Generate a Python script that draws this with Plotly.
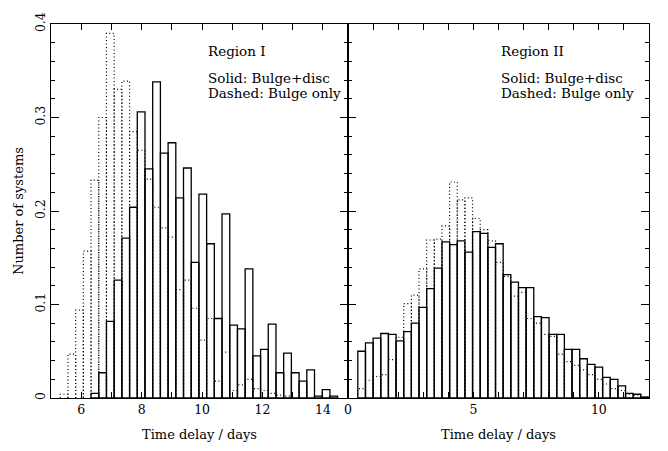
import plotly.graph_objects as go

# ---------------- Region I (left panel) ----------------
R1_BIN = 0.255
r1_centers = [6.453, 6.708, 6.963, 7.218, 7.473, 7.728, 7.983, 8.238, 8.493, 8.748,
              9.003, 9.258, 9.513, 9.768, 10.023, 10.278, 10.533, 10.788, 11.043, 11.298,
              11.553, 11.808, 12.063, 12.318, 12.573, 12.828, 13.083, 13.338, 13.593, 13.848,
              14.103, 14.358]
r1_solid = [0.005, 0.027, 0.082, 0.126, 0.171, 0.204, 0.306, 0.245, 0.338, 0.262,
            0.273, 0.214, 0.246, 0.145, 0.218, 0.165, 0.085, 0.197, 0.078, 0.074,
            0.138, 0.045, 0.052, 0.079, 0.027, 0.048, 0.027, 0.018, 0.030, 0.002,
            0.009, 0.002]
r1_dash_centers = [5.433, 5.688, 5.943, 6.198, 6.453, 6.708, 6.963, 7.218, 7.473, 7.728,
                   7.983, 8.238, 8.493, 8.748, 9.003, 9.258, 9.513, 9.768, 10.023, 10.278,
                   10.533, 10.788, 11.043, 11.298, 11.553, 11.808, 12.063, 12.318, 12.573, 12.828]
r1_dash = [0.004, 0.047, 0.094, 0.157, 0.233, 0.300, 0.390, 0.330, 0.339, 0.285,
           0.265, 0.234, 0.204, 0.182, 0.172, 0.116, 0.126, 0.096, 0.062, 0.085,
           0.018, 0.049, 0.008, 0.014, 0.020, 0.010, 0.008, 0.005, 0.003, 0.002]

# ---------------- Region II (right panel) ----------------
R2_BIN = 0.305
r2_centers = [0.543, 0.848, 1.153, 1.458, 1.763, 2.068, 2.373, 2.678, 2.983, 3.288,
              3.593, 3.898, 4.203, 4.508, 4.813, 5.118, 5.423, 5.728, 6.033, 6.338,
              6.643, 6.948, 7.253, 7.558, 7.863, 8.168, 8.473, 8.778, 9.083, 9.388,
              9.693, 9.998, 10.303, 10.608, 10.913, 11.218, 11.523, 11.828]
r2_solid = [0.050, 0.059, 0.064, 0.069, 0.068, 0.061, 0.071, 0.080, 0.097, 0.117,
            0.139, 0.167, 0.164, 0.168, 0.156, 0.178, 0.176, 0.161, 0.165, 0.132,
            0.124, 0.118, 0.118, 0.087, 0.086, 0.068, 0.068, 0.052, 0.052, 0.042,
            0.036, 0.033, 0.022, 0.020, 0.013, 0.005, 0.004, 0.001]
r2_dash = [0.010, 0.019, 0.023, 0.025, 0.041, 0.065, 0.101, 0.110, 0.138, 0.169,
           0.170, 0.184, 0.231, 0.212, 0.214, 0.192, 0.180, 0.168, 0.145, 0.130,
           0.109, 0.113, 0.085, 0.080, 0.068, 0.066, 0.047, 0.039, 0.035, 0.030,
           0.025, 0.020, 0.015, 0.010, 0.008, 0.004, 0.003, 0.001]

# axis ticks / labels
x1_tickvals = [6, 7, 8, 9, 10, 11, 12, 13, 14]
x1_ticktext = ["6", "", "8", "", "10", "", "12", "", "14"]
x2_tickvals = [0, 1, 2, 3, 4, 5, 6, 7, 8, 9, 10, 11]
x2_ticktext = ["0", "", "", "", "", "5", "", "", "", "", "10", ""]
y_tickvals = [0, 0.1, 0.2, 0.3, 0.4]
y_ticktext = ["0", "0.1", "0.2", "0.3", "0.4"]

FONT = "DejaVu Serif"


def step_outline(centers, heights, width):
    xs, ys = [], []
    for c, h in zip(centers, heights):
        xs += [c - width / 2, c - width / 2, c + width / 2, c + width / 2, None]
        ys += [0, h, h, 0, None]
    return xs, ys


fig = go.Figure()

for centers, vals, dcent, dvals, w, xa, ya in [
    (r1_centers, r1_solid, r1_dash_centers, r1_dash, R1_BIN, "x", "y"),
    (r2_centers, r2_solid, r2_centers, r2_dash, R2_BIN, "x2", "y2"),
]:
    dx, dy = step_outline(dcent, dvals, w)
    fig.add_trace(go.Scatter(x=dx, y=dy, mode="lines", xaxis=xa, yaxis=ya,
                             line=dict(color="black", width=1.2, dash="1px,2.5px"),
                             hoverinfo="skip", showlegend=False))
    fig.add_trace(go.Bar(x=centers, y=vals, width=w, xaxis=xa, yaxis=ya,
                         marker=dict(color="rgba(0,0,0,0)",
                                     line=dict(color="black", width=1.3)),
                         showlegend=False))

SPLIT = 0.4967
axis_common = dict(showline=True, linecolor="black", linewidth=1.4, mirror="allticks",
                   ticks="inside", tickcolor="black", showgrid=False, zeroline=False,
                   tickfont=dict(family=FONT, size=12.5, color="black"))

fig.update_layout(
    width=668, height=451,
    margin=dict(l=51, r=19, t=13, b=52),
    paper_bgcolor="white", plot_bgcolor="white",
    barmode="overlay",
    font=dict(family=FONT, color="black"),
    xaxis=dict(domain=[0, SPLIT], anchor="y", range=[5, 14.83],
               tickvals=x1_tickvals, ticktext=x1_ticktext, ticklen=6, tickwidth=1,
               title=dict(text="Time delay / days", font=dict(family=FONT, size=13),
                          standoff=13),
               **axis_common),
    xaxis2=dict(domain=[SPLIT, 1], anchor="y2", range=[0, 12],
                tickvals=x2_tickvals, ticktext=x2_ticktext, ticklen=6, tickwidth=1,
                title=dict(text="Time delay / days", font=dict(family=FONT, size=13),
                           standoff=13),
                **axis_common),
    yaxis=dict(domain=[0, 1], anchor="x", range=[0, 0.4],
               tickvals=y_tickvals, ticktext=y_ticktext, tickangle=-90,
               ticklen=8, tickwidth=1,
               minor=dict(ticks="inside", dtick=0.02, ticklen=4, tickcolor="black"),
               title=dict(text="Number of systems", font=dict(family=FONT, size=13),
                          standoff=6),
               **axis_common),
    yaxis2=dict(domain=[0, 1], anchor="x2", range=[0, 0.4], matches="y",
                tickvals=y_tickvals, showticklabels=False,
                ticklen=8, tickwidth=1,
                minor=dict(ticks="inside", dtick=0.02, ticklen=4, tickcolor="black"),
                **axis_common),
)

ann_font = dict(family=FONT, size=13.5, color="black")
for xref, yref, xf, label in [("x domain", "y domain", 0.523, "Region I"),
                              ("x2 domain", "y2 domain", 0.500, "Region II")]:
    fig.add_annotation(x=xf, y=0.929, xref=xref, yref=yref, text=label, showarrow=False,
                       xanchor="left", yanchor="middle", font=ann_font)
    fig.add_annotation(x=xf, y=0.856, xref=xref, yref=yref, text="Solid: Bulge+disc",
                       showarrow=False, xanchor="left", yanchor="middle", font=ann_font)
    fig.add_annotation(x=xf, y=0.816, xref=xref, yref=yref, text="Dashed: Bulge only",
                       showarrow=False, xanchor="left", yanchor="middle", font=ann_font)

fig.write_html("out.html")
